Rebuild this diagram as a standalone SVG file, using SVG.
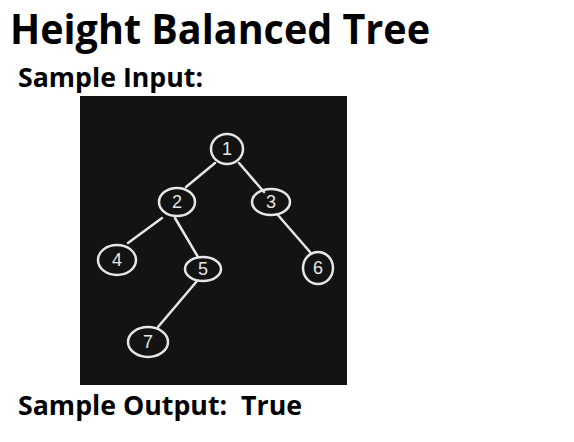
<svg xmlns="http://www.w3.org/2000/svg" width="574" height="442" viewBox="0 0 574 442">
<style>
.t{font-family:"Open Sans","Liberation Sans",sans-serif;font-weight:bold;fill:#000}
.n ellipse{fill:none;stroke:#e6e6e6;stroke-width:2.5}
.n text{font-family:"Liberation Sans",sans-serif;font-size:18px;fill:#e6e6e6;text-anchor:middle}
#edges line{stroke:#e6e6e6;stroke-width:2.5;stroke-linecap:round}
</style>
<rect width="574" height="442" fill="#fff"/>
<text class="t" x="10" y="44" font-size="42" textLength="420" lengthAdjust="spacingAndGlyphs">Height Balanced Tree</text>
<text class="t" x="18" y="87" font-size="27" textLength="185" lengthAdjust="spacingAndGlyphs">Sample Input:</text>
<rect x="80" y="96" width="267" height="289" fill="#131313"/>
<g id="edges">
<line x1="215" y1="163" x2="186" y2="187"/>
<line x1="239" y1="163" x2="264" y2="192"/>
<line x1="162" y1="218" x2="128" y2="243"/>
<line x1="175" y1="218" x2="198" y2="257"/>
<line x1="277" y1="214" x2="310" y2="252"/>
<line x1="197" y1="281" x2="158" y2="327"/>
</g>
<g id="n1" class="n"><ellipse cx="227" cy="149" rx="16" ry="15"/><text x="227" y="155">1</text></g>
<g id="n2" class="n"><ellipse cx="177" cy="202" rx="18" ry="14"/><text x="177" y="208">2</text></g>
<g id="n3" class="n"><ellipse cx="271" cy="202" rx="19" ry="13"/><text x="271" y="208">3</text></g>
<g id="n4" class="n"><ellipse cx="117" cy="260" rx="19" ry="15"/><text x="117" y="266">4</text></g>
<g id="n5" class="n"><ellipse cx="203" cy="269" rx="18" ry="12"/><text x="203" y="275">5</text></g>
<g id="n6" class="n"><ellipse cx="318" cy="268" rx="15" ry="16"/><text x="318" y="274">6</text></g>
<g id="n7" class="n"><ellipse cx="148" cy="342" rx="20" ry="15"/><text x="148" y="348">7</text></g>
<text class="t" x="18" y="415" font-size="26" textLength="284" lengthAdjust="spacingAndGlyphs" xml:space="preserve">Sample Output:  True</text>
</svg>
